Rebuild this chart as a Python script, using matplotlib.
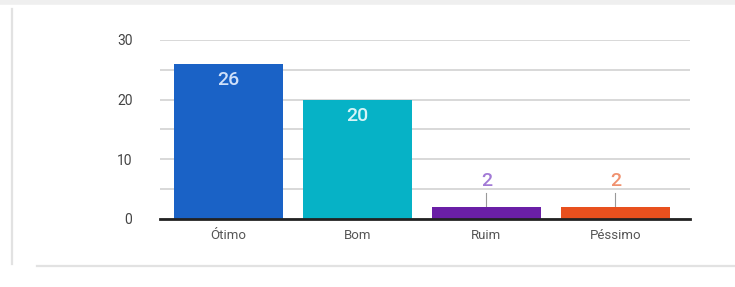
import matplotlib
matplotlib.use("Agg")
import matplotlib.pyplot as plt
from matplotlib.lines import Line2D
import numpy as np

plt.rcParams['font.family'] = ['Roboto', 'DejaVu Sans']

# Data
categories = ['Ótimo', 'Bom', 'Ruim', 'Péssimo']
counts = [26, 20, 2, 2]
bar_colors = ['#1a62c6', '#06b2c6', '#6a1fa6', '#e8501e']
label_colors = ['#cfe0fa', '#d6f4f7', '#a27ad6', '#f0916f']
y_ticks = [0, 10, 20, 30]

fig = plt.figure(figsize=(7.35, 2.87), dpi=100)
fig.patch.set_facecolor('white')

# card border decoration
fig.add_artist(Line2D([0, 1], [0.992, 0.992], transform=fig.transFigure,
                      color='#efefef', lw=4))
fig.add_artist(Line2D([0.017, 0.017], [0.08, 0.97], transform=fig.transFigure,
                      color='#e2e2e2', lw=1.6))
fig.add_artist(Line2D([0.05, 1], [0.072, 0.072], transform=fig.transFigure,
                      color='#e2e2e2', lw=1.6))

ax = fig.add_axes([0.218, 0.237, 0.721, 0.624])
x = np.arange(len(categories))
ax.bar(x, counts, width=0.845, color=bar_colors, zorder=3)

# value labels: inside tall bars, above short bars with a leader line
for xi, v, lc in zip(x, counts, label_colors):
    if v >= 10:
        ax.annotate(str(v), (xi, v), xytext=(0, -12), textcoords='offset points',
                    ha='center', va='center', fontsize=14, fontweight='medium',
                    color=lc, zorder=4)
    else:
        ax.annotate(str(v), (xi, v), xytext=(0, 19), textcoords='offset points',
                    ha='center', va='center', fontsize=14, fontweight='medium',
                    color=lc, zorder=4)
        ax.plot([xi, xi], [v, v + 2.35], color='#999999', lw=0.8, zorder=2)

ax.set_xlim(-0.53, 3.58)
ax.set_ylim(0, 30)
ax.set_yticks(y_ticks)
ax.set_yticks([5, 15, 25], minor=True)
ax.set_xticks(x)
ax.set_xticklabels(categories, fontsize=9.5, color='#555555')
ax.tick_params(axis='y', which='both', length=0, pad=20, labelsize=10, labelcolor='#444444')
ax.tick_params(axis='x', length=0, pad=7)
ax.grid(axis='y', which='both', color='#d6d6d6', lw=1.3, zorder=0)
ax.set_axisbelow(True)
for s in ['top', 'right', 'left']:
    ax.spines[s].set_visible(False)
ax.spines['bottom'].set_color('#222222')
ax.spines['bottom'].set_linewidth(2)
ax.spines['bottom'].set_zorder(5)

fig.savefig('out.png', dpi=100)
